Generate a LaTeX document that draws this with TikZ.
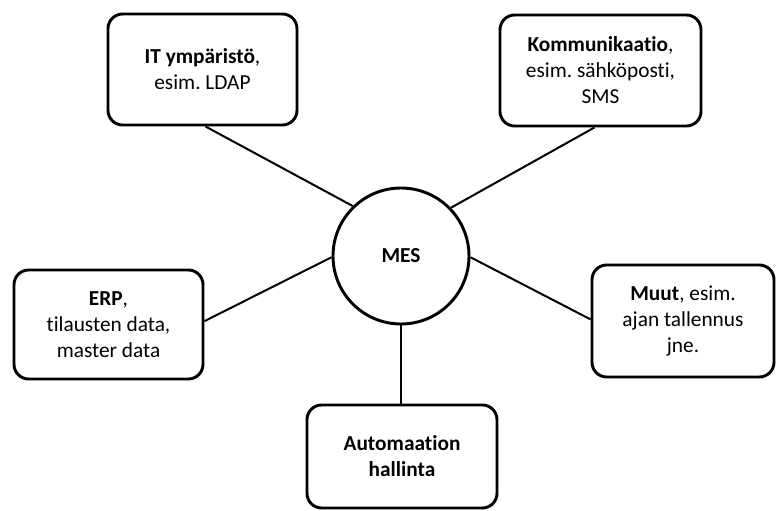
\documentclass[tikz,border=0pt]{standalone}
\usepackage{fontspec}
\setmainfont{Carlito}[RawFeature=-liga]
\begin{document}
\frenchspacing
\begin{tikzpicture}[x=0.75pt,y=-0.75pt,
  box/.style={draw, line width=2.2pt, rounded corners=11pt, align=center,
              inner sep=0pt, fill=white},
  hub/.style={draw, circle, line width=2.2pt, minimum size=102pt, inner sep=0pt,
              fill=white},
  link/.style={line width=1.5pt},
  every node/.style={font=\fontsize{16}{19.5}\selectfont}]
\useasboundingbox (0,0) rectangle (776,511);

% central system
\node[hub] (mes) at (401,256) {\textbf{MES}};

% surrounding systems
\node[box, minimum width=141.75pt, minimum height=83.25pt] (it) at (202.5,69.5)
  {\textbf{IT ympäristö},\\esim. LDAP};
\node[box, minimum width=150.75pt, minimum height=83.25pt] (komm) at (600.5,70.5)
  {\textbf{Kommunikaatio},\\esim. sähköposti,\\SMS};
\node[box, minimum width=141.75pt, minimum height=81.75pt] (erp) at (108.5,324.5)
  {\textbf{ERP},\\tilausten data,\\master data};
\node[box, minimum width=136.5pt, minimum height=84pt] (muut) at (683,321)
  {\textbf{Muut}, esim.\\ajan tallennus\\jne.};
\node[box, minimum width=142.5pt, minimum height=77.25pt] (auto) at (402,456.5)
  {\textbf{Automaation}\\\textbf{hallinta}};

% links to the hub
\draw[link] (it.-87) -- (mes.134);
\draw[link] (komm.-96) -- (mes.44);
\draw[link] (erp.2.5) -- (mes.181);
\draw[link] (muut.179) -- (mes.-1);
\draw[link] (auto.north -| mes.south) -- (mes.south);
\end{tikzpicture}
\end{document}
